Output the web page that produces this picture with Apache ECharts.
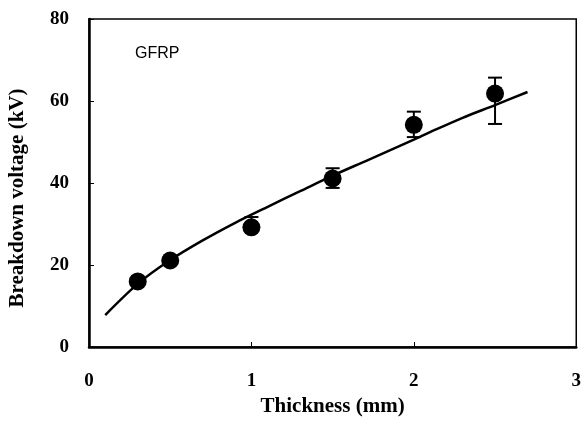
<!DOCTYPE html>
<html>
<head>
<meta charset="utf-8">
<script src="https://cdn.jsdelivr.net/npm/echarts@6/dist/echarts.min.js"></script>
<style>
  html, body { margin: 0; padding: 0; background: #fff; }
  #chart { width: 584px; height: 435px; }
</style>
</head>
<body>
<div id="chart"></div>
<script>
// measured points
var thickness = [0.3, 0.5, 1.0, 1.5, 2.0, 2.5];
var voltage = [16.0, 21.1, 29.2, 41.1, 54.2, 61.8];
var errLow = [16.0, 21.1, 28.5, 38.8, 51.2, 54.4];
var errHigh = [16.0, 21.1, 31.7, 43.6, 57.4, 65.7];

// fitted curve
var fitX = [0.1, 0.3, 0.5, 0.7, 0.9, 1.1, 1.3, 1.5, 1.7, 1.9, 2.1, 2.3, 2.5, 2.7];
var fitY = [7.8, 15.4, 21.2, 26.0, 30.3, 34.2, 38.0, 41.8, 45.3, 48.8, 52.4, 55.9, 59.0, 62.2];

var xTicks = [0, 1, 2, 3];
var yTicks = [0, 20, 40, 60, 80];

var pts = thickness.map(function (x, i) { return [x, voltage[i]]; });
var fit = fitX.map(function (x, i) { return [x, fitY[i]]; });
var errs = thickness.map(function (x, i) { return [x, errLow[i], errHigh[i]]; });

var serif = '"Liberation Serif", "Times New Roman", serif';

var option = {
    animation: false,
    grid: {
        left: 89, right: 4, top: 19, bottom: 88,
        show: true, borderColor: '#000', borderWidth: 1.5
    },
    xAxis: {
        type: 'value', min: 0, max: 3, interval: 1,
        name: 'Thickness (mm)', nameLocation: 'middle', nameGap: 34,
        nameTextStyle: { fontFamily: serif, fontSize: 21, fontWeight: 'bold', color: '#000' },
        axisLine: { lineStyle: { color: '#000', width: 2.5 } },
        axisTick: { inside: true, length: 5, lineStyle: { color: '#000' } },
        axisLabel: {
            margin: 25, fontFamily: serif, fontSize: 19, fontWeight: 'bold', color: '#000',
            formatter: function (v) { return xTicks.indexOf(v) >= 0 ? String(v) : ''; }
        },
        splitLine: { show: false }
    },
    yAxis: {
        type: 'value', min: 0, max: 80, interval: 20,
        axisLine: { lineStyle: { color: '#000', width: 2.5 } },
        axisTick: { inside: true, length: 5, lineStyle: { color: '#000' } },
        axisLabel: {
            margin: 20, fontFamily: serif, fontSize: 19, fontWeight: 'bold', color: '#000',
            formatter: function (v) { return yTicks.indexOf(v) >= 0 ? String(v) : ''; }
        },
        splitLine: { show: false }
    },
    graphic: [
        {
            type: 'text', left: 135, top: 46,
            style: { text: 'GFRP', font: '16px "Liberation Sans", Arial, sans-serif', fill: '#000' }
        },
        {
            type: 'text', x: 18, y: 198, rotation: Math.PI / 2,
            style: {
                text: 'Breakdown voltage (kV)', font: 'bold 21px ' + serif, fill: '#000',
                align: 'center', verticalAlign: 'middle'
            }
        }
    ],
    series: [
        {
            type: 'line', data: fit, smooth: 0.3, showSymbol: false,
            lineStyle: { color: '#000', width: 2.5 }, z: 2
        },
        {
            type: 'custom', data: errs, z: 3,
            renderItem: function (params, api) {
                var x = api.value(0);
                var lo = api.coord([x, api.value(1)]);
                var hi = api.coord([x, api.value(2)]);
                var w = 7;
                var st = { stroke: '#000', lineWidth: 2 };
                return {
                    type: 'group',
                    children: [
                        { type: 'line', shape: { x1: lo[0], y1: lo[1], x2: hi[0], y2: hi[1] }, style: st },
                        { type: 'line', shape: { x1: lo[0] - w, y1: lo[1], x2: lo[0] + w, y2: lo[1] }, style: st },
                        { type: 'line', shape: { x1: hi[0] - w, y1: hi[1], x2: hi[0] + w, y2: hi[1] }, style: st }
                    ]
                };
            }
        },
        {
            type: 'scatter', data: pts, symbol: 'circle', symbolSize: 18,
            itemStyle: { color: '#000', opacity: 1 }, z: 4
        }
    ]
};

var chart = echarts.init(document.getElementById('chart'));
chart.setOption(option);
</script>
</body>
</html>
